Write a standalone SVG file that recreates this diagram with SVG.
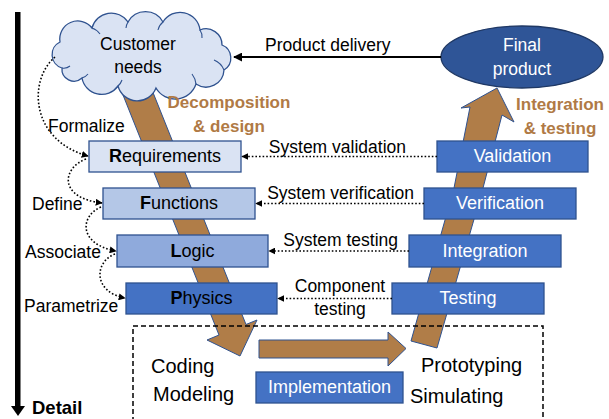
<svg xmlns="http://www.w3.org/2000/svg" width="609" height="419" viewBox="0 0 609 419">
  <style>
    text { font-family: "Liberation Sans", Arial, sans-serif; fill: #000; }
    .lbl { font-size: 17.5px; }
    .big { font-size: 20px; }
    .box { font-size: 18px; text-anchor: middle; }
    .w { fill: #fff; }
    .phase { font-size: 17px; font-weight: bold; fill: #B07A45; text-anchor: middle; }
    .nodebox { stroke: #2F528F; stroke-width: 1.3; }
    .dot { fill: none; stroke: #000; stroke-width: 1.6; stroke-dasharray: 1.6 2; marker-end: url(#tipSmall); }
    .band { fill: #B07D48; stroke: #2F528F; stroke-width: 1; }
  </style>
  <defs>
    <marker id="tipSmall" viewBox="0 0 10 10" refX="9" refY="5" markerWidth="7" markerHeight="7" markerUnits="userSpaceOnUse" orient="auto">
      <path d="M0,0 L10,5 L0,10 Z" fill="#000"/>
    </marker>
    <marker id="tipSolid" viewBox="0 0 10 10" refX="9" refY="5" markerWidth="9" markerHeight="9" markerUnits="userSpaceOnUse" orient="auto">
      <path d="M0,0 L10,5 L0,10 Z" fill="#000"/>
    </marker>
  </defs>

  <!-- detail axis -->
  <g id="detail-axis">
    <rect x="15" y="12" width="5.5" height="396" fill="#000"/>
    <path d="M11,406 L25,406 L18,416 Z" fill="#000"/>
    <text x="32" y="414" style="font-size:18.5px;font-weight:bold">Detail</text>
  </g>

  <!-- broad flow arrows: decomposition, implementation, integration -->
  <g id="flow">
    <path class="band" d="M117,80 L148,80 L246,324.5 L257,320 L240,356 L207,340 L219,335 Z"/>
    <path class="band" d="M259,340 L388,340 L388,332 L406,348.5 L388,366 L388,358 L259,358 Z"/>
    <path class="band" d="M411,341 L454,188 L470,107 L461,108 L497,88 L514,122 L502,115 L483,188 L437,348 Z"/>
  </g>

  <!-- implementation area -->
  <g id="implementation-area">
    <rect x="133" y="326" width="410" height="110" fill="none" stroke="#000" stroke-width="1.5" stroke-dasharray="5 3"/>
    <text class="big" x="151" y="373">Coding</text>
    <text class="big" x="153" y="401">Modeling</text>
    <text class="big" x="421" y="372">Prototyping</text>
    <text class="big" x="410" y="403">Simulating</text>
  </g>

  <g id="implementation">
    <rect class="nodebox" x="256" y="372" width="147" height="31" fill="#4472C4"/>
    <text class="box w" x="329.5" y="393">Implementation</text>
  </g>

  <!-- customer needs cloud -->
  <g id="customer-needs">
    <path d="M62,68 A14,14 0 0 1 60,42 A18,18 0 0 1 92,28 A20,20 0 0 1 128,22 A20,20 0 0 1 163,22 A20,20 0 0 1 200,30 A16,16 0 0 1 222,45 A14,14 0 0 1 224,70 A18,18 0 0 1 196,84 A22,22 0 0 1 156,88 A20,20 0 0 1 118,86 A20,20 0 0 1 82,78 A12,12 0 0 1 62,68 Z" fill="#DAE3F3" stroke="#2F528F" stroke-width="1.3"/>
    <path d="M62,68 A10,10 0 0 0 70,66 M82,78 A12,12 0 0 0 88,74 M118,86 A14,14 0 0 0 122,80 M196,84 A20,20 0 0 0 192,74 M224,70 A18,18 0 0 0 214,60 M200,30 A12,12 0 0 1 202,38 M163,22 A14,14 0 0 0 158,30 M128,22 A14,14 0 0 0 126,28 M92,28 A16,16 0 0 1 100,34" fill="none" stroke="#2F528F" stroke-width="1.1"/>
    <text class="lbl" x="138" y="50" text-anchor="middle">Customer</text>
    <text class="lbl" x="138" y="73" text-anchor="middle">needs</text>
  </g>

  <!-- final product -->
  <g id="final-product">
    <ellipse cx="522" cy="57" rx="81" ry="31" fill="#2F5597" stroke="#1F3864" stroke-width="1.3"/>
    <text class="lbl w" x="522" y="51" text-anchor="middle">Final</text>
    <text class="lbl w" x="522" y="75" text-anchor="middle">product</text>
  </g>

  <!-- phase labels -->
  <g id="phase-labels">
    <text class="phase" x="229" y="108">Decomposition</text>
    <text class="phase" x="229" y="132">&amp; design</text>
    <text class="phase" x="560" y="110">Integration</text>
    <text class="phase" x="560" y="134">&amp; testing</text>
  </g>

  <!-- left side: design levels -->
  <g id="requirements">
    <rect class="nodebox" x="89" y="141" width="152" height="31" fill="#DAE3F3"/>
    <text class="box" x="165" y="162"><tspan font-weight="bold">R</tspan>equirements</text>
  </g>
  <g id="functions">
    <rect class="nodebox" x="103" y="188" width="152" height="31" fill="#B4C7E7"/>
    <text class="box" x="179" y="209"><tspan font-weight="bold">F</tspan>unctions</text>
  </g>
  <g id="logic">
    <rect class="nodebox" x="117" y="235" width="151" height="32" fill="#8FAADC"/>
    <text class="box" x="192.5" y="257"><tspan font-weight="bold">L</tspan>ogic</text>
  </g>
  <g id="physics">
    <rect class="nodebox" x="126" y="283" width="151" height="31" fill="#4472C4"/>
    <text class="box" x="201.5" y="304"><tspan font-weight="bold">P</tspan>hysics</text>
  </g>

  <!-- right side: integration levels -->
  <g id="validation">
    <rect class="nodebox" x="437" y="141" width="151" height="31" fill="#4472C4"/>
    <text class="box w" x="512.5" y="162">Validation</text>
  </g>
  <g id="verification">
    <rect class="nodebox" x="424" y="188" width="152" height="31" fill="#4472C4"/>
    <text class="box w" x="500" y="209">Verification</text>
  </g>
  <g id="integration">
    <rect class="nodebox" x="409" y="235" width="152" height="32" fill="#4472C4"/>
    <text class="box w" x="485" y="257">Integration</text>
  </g>
  <g id="testing">
    <rect class="nodebox" x="392" y="283" width="152" height="31" fill="#4472C4"/>
    <text class="box w" x="468" y="304">Testing</text>
  </g>

  <!-- connectors -->
  <g id="connectors">
    <line x1="441" y1="57" x2="234" y2="57" stroke="#000" stroke-width="2" marker-end="url(#tipSolid)"/>
    <path class="dot" d="M437,156.5 L242,156.5"/>
    <path class="dot" d="M424,203.5 L256,203.5"/>
    <path class="dot" d="M409,251 L269,251"/>
    <path class="dot" d="M392,298.5 L278,298.5"/>
    <path class="dot" d="M55,57 C28,80 30,140 88,156"/>
    <path class="dot" d="M86,159 C62,168 58,198 102,203"/>
    <path class="dot" d="M101,207 C80,216 78,244 116,251"/>
    <path class="dot" d="M115,254 C94,262 93,292 125,298"/>
  </g>

  <!-- connector labels -->
  <g id="connector-labels">
    <text class="lbl" x="265" y="51">Product delivery</text>
    <text class="lbl" x="406" y="153" text-anchor="end">System validation</text>
    <text class="lbl" x="414" y="199" text-anchor="end">System verification</text>
    <text class="lbl" x="398" y="246" text-anchor="end">System testing</text>
    <text class="lbl" x="340" y="292" text-anchor="middle">Component</text>
    <text class="lbl" x="340" y="315" text-anchor="middle">testing</text>
    <text class="lbl" x="48" y="132">Formalize</text>
    <text class="lbl" x="32" y="210">Define</text>
    <text class="lbl" x="25" y="258">Associate</text>
    <text class="lbl" x="24" y="312">Parametrize</text>
  </g>
</svg>
